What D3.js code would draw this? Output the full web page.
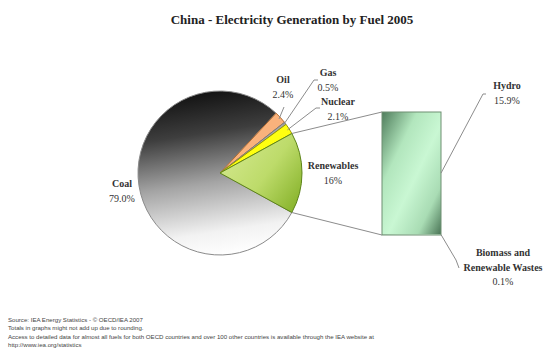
<!DOCTYPE html>
<html>
<head>
<meta charset="utf-8">
<script src="https://cdn.jsdelivr.net/npm/d3@7/dist/d3.min.js"></script>
<style>
  html, body { margin: 0; padding: 0; background: #fff; }
  svg { display: block; }
</style>
</head>
<body>
<svg id="chart" width="546" height="350"></svg>
<script>
// Fuel shares of China's 2005 electricity generation (%)
const fuels = ["Coal", "Oil", "Gas", "Nuclear", "Renewables"];
const shares = [79.0, 2.4, 0.5, 2.1, 16];
const shareLabels = ["79.0%", "2.4%", "0.5%", "2.1%", "16%"];

// Breakdown of the renewables slice
const renewParts = ["Hydro", "Biomass and Renewable Wastes"];
const renewShares = [15.9, 0.1];
const renewLabels = ["15.9%", "0.1%"];

const title = "China - Electricity Generation by Fuel 2005";
const notes = [
  "Source: IEA Energy Statistics  -  \u00A9 OECD/IEA 2007",
  "Totals in graphs might not add up due to rounding.",
  "Access to detailed data for almost all fuels for both OECD countries and over 100 other countries is available through the IEA website at",
  "http://www.iea.org/statistics"
];

const svg = d3.select("#chart");
const defs = svg.append("defs");

const cx = 220, cy = 173, R = 82;

// gradients (pie gradients are in the pie group's local coordinates)
const gCoal = defs.append("linearGradient").attr("id", "gCoal")
  .attr("gradientUnits", "userSpaceOnUse")
  .attr("x1", -15).attr("y1", -R).attr("x2", 10).attr("y2", R);
gCoal.append("stop").attr("offset", 0).attr("stop-color", "#121212");
gCoal.append("stop").attr("offset", 0.25).attr("stop-color", "#3e3e3e");
gCoal.append("stop").attr("offset", 0.55).attr("stop-color", "#a4a4a4");
gCoal.append("stop").attr("offset", 0.85).attr("stop-color", "#f2f2f2");
gCoal.append("stop").attr("offset", 1).attr("stop-color", "#ffffff");

const gRen = defs.append("linearGradient").attr("id", "gRen")
  .attr("gradientUnits", "userSpaceOnUse")
  .attr("x1", 0).attr("y1", -30).attr("x2", R).attr("y2", 30);
gRen.append("stop").attr("offset", 0).attr("stop-color", "#d6ea92");
gRen.append("stop").attr("offset", 0.55).attr("stop-color", "#bddb6a");
gRen.append("stop").attr("offset", 1).attr("stop-color", "#86b22a");

const gBar = defs.append("linearGradient").attr("id", "gBar")
  .attr("x1", 0).attr("y1", 0).attr("x2", 1).attr("y2", 1);
gBar.append("stop").attr("offset", 0).attr("stop-color", "#4f7d5c");
gBar.append("stop").attr("offset", 0.3).attr("stop-color", "#b2e6bd");
gBar.append("stop").attr("offset", 0.55).attr("stop-color", "#c9f7d3");
gBar.append("stop").attr("offset", 0.8).attr("stop-color", "#a9dcb4");
gBar.append("stop").attr("offset", 1).attr("stop-color", "#4a7556");

const fills = ["url(#gCoal)", "#f9b27c", "#a6a6a6", "#ffff10", "url(#gRen)"];
const strokes = ["#8a8a8a", "#b06a30", "#7a7a7a", "#9a9a00", "#5d8418"];

// title
svg.append("text")
  .attr("x", 292).attr("y", 24)
  .attr("text-anchor", "middle")
  .style("font-family", "'Liberation Serif', 'DejaVu Serif', serif")
  .style("font-weight", "bold").style("font-size", "13px")
  .attr("fill", "#222")
  .text(title);

// pie: renewables centred on the right-hand horizontal
const total = d3.sum(shares);
const iRen = fuels.indexOf("Renewables");
const startA = Math.PI / 2 + (shares[iRen] / 2) / total * 2 * Math.PI;
const pie = d3.pie().sort(null).value(d => d)
  .startAngle(startA).endAngle(startA + 2 * Math.PI);
const arcs = pie(shares);
const arc = d3.arc().innerRadius(0).outerRadius(R);

const gPie = svg.append("g").attr("transform", `translate(${cx},${cy})`);
gPie.selectAll("path").data(arcs).join("path")
  .attr("d", arc)
  .attr("fill", (d, i) => fills[i])
  .attr("stroke", (d, i) => strokes[i])
  .attr("stroke-width", 1);

// point on the rim at a given d3 angle
const rim = (a, r = R) => [cx + r * Math.sin(a), cy - r * Math.cos(a)];

// breakdown bar for renewables
const barX = 382, barW = 59, barTop = 112, barBot = 235;
const yBar = d3.scaleLinear().domain([0, shares[iRen]]).range([barBot, barTop]);
let acc = 0;
const stack = renewShares.slice().reverse().map(v => {
  const s = { v, y0: acc, y1: acc + v };
  acc += v;
  return s;
});
const gBarG = svg.append("g");
gBarG.selectAll("rect").data(stack).join("rect")
  .attr("x", barX).attr("width", barW)
  .attr("y", d => yBar(d.y1)).attr("height", d => yBar(d.y0) - yBar(d.y1))
  .attr("fill", "url(#gBar)");
gBarG.append("rect")
  .attr("x", barX).attr("y", yBar(acc)).attr("width", barW)
  .attr("height", yBar(0) - yBar(acc))
  .attr("fill", "none").attr("stroke", "#6f8f72").attr("stroke-width", 1);

// connectors from the renewables slice edges to the bar
const rA = arcs[iRen];
const pTop = rim(rA.startAngle), pBot = rim(rA.endAngle);
const lineCol = "#8c8c8c";
svg.append("line").attr("x1", pTop[0]).attr("y1", pTop[1])
  .attr("x2", barX).attr("y2", yBar(acc)).attr("stroke", lineCol);
svg.append("line").attr("x1", pBot[0]).attr("y1", pBot[1])
  .attr("x2", barX).attr("y2", yBar(0)).attr("stroke", lineCol);

// labels
const serif = "'Liberation Serif', 'DejaVu Serif', serif";
function label(x, y, name, value, lines) {
  const t = svg.append("text").attr("text-anchor", "middle")
    .style("font-family", serif).style("font-size", "10px").attr("fill", "#333");
  const names = lines || [name];
  names.forEach((n, k) => {
    t.append("tspan").attr("x", x).attr("y", y + k * 14.5)
      .style("font-weight", "bold").text(n);
  });
  t.append("tspan").attr("x", x).attr("y", y + names.length * 14.5).text(value);
}
function leader(pts) {
  svg.append("polyline").attr("points", pts.map(p => p.join(",")).join(" "))
    .attr("fill", "none").attr("stroke", lineCol).attr("stroke-width", 1);
}

const mid = i => (arcs[i].startAngle + arcs[i].endAngle) / 2;

// Coal
label(122, 187, fuels[0], shareLabels[0]);
// Oil
label(283, 83, fuels[1], shareLabels[1]);
leader([rim(mid(1), R - 2), [284, 107]]);
// Gas
label(328, 76, fuels[2], shareLabels[2]);
leader([rim(mid(2), R - 2), [314, 80], [318, 80]]);
// Nuclear
label(338, 105, fuels[3], shareLabels[3]);
leader([rim(mid(3), R - 2), [316, 108], [320, 108]]);
// Renewables
label(333, 169, fuels[4], shareLabels[4]);

// Hydro
label(507, 89, renewParts[0], renewLabels[0]);
leader([[barX + barW, yBar(renewShares[1] + renewShares[0] / 2)], [483, 94], [486, 94]]);
// Biomass and Renewable Wastes
label(503, 256, renewParts[1], renewLabels[1], ["Biomass and", "Renewable Wastes"]);
leader([[barX + barW, yBar(renewShares[1] / 2)], [456, 260], [459, 268]]);

// footnotes
svg.append("g").selectAll("text").data(notes).join("text")
  .attr("x", 8).attr("y", (d, i) => 322 + i * 8.3)
  .style("font-family", "'Liberation Sans', Arial, sans-serif")
  .style("font-size", "6.1px").attr("fill", "#444")
  .text(d => d);
</script>
</body>
</html>
